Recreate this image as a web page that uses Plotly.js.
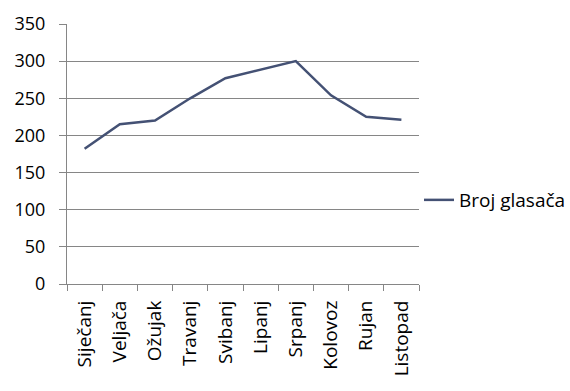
<!DOCTYPE html>
<html><head><meta charset="utf-8">
<script src="https://cdn.plot.ly/plotly-3.0.1.min.js"></script>
<style>body{margin:0;background:#fff}#c{width:570px;height:391px}</style>
</head><body><div id="c"></div>
<script>
var months = ["Siječanj","Veljača","Ožujak","Travanj","Svibanj","Lipanj","Srpanj","Kolovoz","Rujan","Listopad"];
var voters = [182, 215, 220, 250, 277, 288, 300, 254, 225, 221];
var seriesName = "Broj glasača";
var yTicks = [0, 50, 100, 150, 200, 250, 300, 350];

var font = "Open Sans, Liberation Sans, sans-serif";
Plotly.newPlot("c", [{
  x: months, y: voters, type: "scatter", mode: "lines", name: seriesName,
  line: {color: "#445174", width: 2.5}
}], {
  width: 570, height: 391,
  margin: {l: 67, r: 151, t: 24, b: 107, autoexpand: false},
  paper_bgcolor: "#fff", plot_bgcolor: "#fff",
  showlegend: true,
  legend: {x: 1.0, y: 0.323, yanchor: "middle", xanchor: "left", font: {family: font, size: 19, color: "#000"}, itemwidth: 30, tracegroupgap: 0},
  xaxis: {
    type: "category", tickson: "boundaries", ticks: "outside", ticklen: 6, tickcolor: "#868686",
    showline: true, linecolor: "#868686", linewidth: 1, showgrid: false, ticklabelstandoff: 8,
    tickangle: -90, tickfont: {family: font, size: 19, color: "#000"}, range: [-0.5, 9.5]
  },
  yaxis: {
    range: [0, 350], tickvals: yTicks, ticks: "outside", ticklen: 7, tickcolor: "#868686",
    showline: true, linecolor: "#868686", showgrid: true, gridcolor: "#868686", zeroline: false,
    ticklabelstandoff: 10,
    tickfont: {family: font, size: 18, color: "#000"}
  }
}, {staticPlot: true});
</script></body></html>
